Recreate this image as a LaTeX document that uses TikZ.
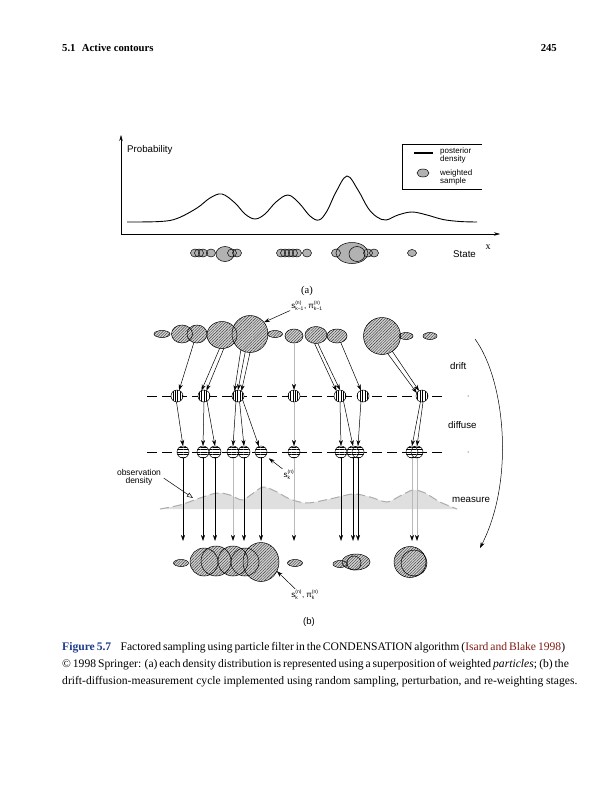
\documentclass[tikz,border=0pt]{standalone}
\usepackage{fontspec}
\setmainfont{Liberation Serif}
\newfontfamily\figfont{Liberation Sans}
\usetikzlibrary{arrows.meta,patterns.meta,shapes.geometric,calc}
\definecolor{capblue}{RGB}{30,60,140}
\definecolor{capred}{RGB}{130,30,20}
\newcommand{\partl}[3]{$\mbox{#1}^{\mbox{\tiny #2}}_{\mbox{\tiny #3}}$}
\begin{document}
\begin{tikzpicture}[x=1pt,y=-1pt,
  hatchfill/.style={fill=gray!35, postaction={pattern={Lines[angle=45,distance=2pt,line width=0.4pt]}, pattern color=black!80}},
  partnode/.style={ellipse, draw, line width=0.5pt, inner sep=0pt, outer sep=0pt},
  vstripe/.style={fill=white, postaction={pattern={Lines[angle=90,distance=2.4pt,line width=0.45pt]}}},
  hstripe/.style={fill=white, postaction={pattern={Lines[angle=0,distance=2.4pt,line width=0.45pt]}}},
  circnode/.style={circle, draw, line width=0.5pt, minimum size=12pt, inner sep=0pt, outer sep=0pt},
  arr/.style={-{Stealth[length=6pt,width=4pt]}, line width=0.5pt},
  garr/.style={-{Stealth[length=6pt,width=4pt,color=black]}, line width=0.6pt, draw=gray!55},
  axarr/.style={-{Stealth[length=6pt,width=3.5pt]}, line width=0.5pt},
  dashln/.style={line width=0.6pt, dash pattern=on 10pt off 5pt},
  figtxt/.style={font=\figfont\fontsize{9.7}{11}\selectfont, inner sep=0pt},
  legtxt/.style={font=\figfont\fontsize{8}{9}\selectfont, inner sep=0pt, anchor=base west},
  captxt/.style={font=\fontsize{11.6}{13}\selectfont, inner sep=0pt, anchor=base west},
  sampfill/.style={fill=gray!60},
  labtxt/.style={font=\figfont\fontsize{8}{9}\selectfont, inner sep=1pt}
]
\useasboundingbox (0,0) rectangle (614,800);
\fill[white] (0,0) rectangle (614,800);

% header
\node[anchor=base west, inner sep=0pt, font=\fontsize{10.7}{12}\selectfont\bfseries] (hdl) at (62,52) {5.1\hspace{0.6em}Active contours};
\node[anchor=base east, inner sep=0pt, font=\fontsize{10.7}{12}\selectfont\bfseries] (hdr) at (557,52) {245};

% ---------------- (a)
\draw[axarr] (121,235) -- (121,135);
\draw[axarr] (121,234) -- (500,234);
\node[figtxt, anchor=base west] (prob) at (127,152.5) {Probability};
\node[figtxt, anchor=base west] (state) at (453,257) {State};
\node[inner sep=0pt, anchor=base, font=\fontsize{10}{11}\selectfont] (xl) at (488,249) {x};

\draw[line width=0.9pt] plot[smooth, tension=0.6] coordinates {(127,222) (160,221.5) (177,218.5) (197,208) (210,198) (222,194) (235,203) (245,214) (255,219) (265,214) (276,202) (288,195) (299,203) (310,216) (319,220) (327,211) (336,192) (347,176) (358,190) (368,208) (377,217) (386,220) (398,215) (412,212) (427,215) (443,219.5) (460,221.5) (477,222)};

% legend
\draw[line width=0.5pt] (482,144) -- (402,144) -- (402,189) -- (482,189);
\draw[line width=2pt] (414,153) -- (433,153);
\fill[sampfill] (423,173) ellipse (6 and 4);
\draw[line width=0.5pt] (423,173) ellipse (6 and 4);
\node[legtxt] (lg1) at (440,153) {posterior};
\node[legtxt] (lg2) at (440,161) {density};
\node[legtxt] (lg3) at (440,175) {weighted};
\node[legtxt] (lg4) at (440,183) {sample};

\def\samplesA{195/253/4.5/4, 199/253/4.5/4, 203/253/4.5/4, 211/253/4.5/4, 225/254/9/7.5, 232/253/4.5/4, 237/253/4.5/4, 281/253/4.5/4, 285/253/4.5/4, 289/253/4.5/4, 293/253/4.5/4, 297/253/4.5/4, 307/253/4.5/4, 336/253/4.5/4, 352/253/16/10.5, 357/254/8/7.5, 368/253/4.5/4, 374/253/4.5/4, 412/253/4.5/3.5}
\foreach \px/\py/\ra/\rb in \samplesA {\fill[sampfill] (\px,\py) ellipse ({\ra} and {\rb});}
\foreach \px/\py/\ra/\rb in \samplesA {\draw[line width=0.5pt] (\px,\py) ellipse ({\ra} and {\rb});}

\node[inner sep=0pt, anchor=base, font=\fontsize{10.5}{12}\selectfont] (capa) at (307,293) {(a)};

% ---------------- (b)
\draw[dashln] (147,396) -- (442,396);
\draw[dashln] (147,452) -- (442,452);
\fill (468,396) circle (0.5);
\fill (468,452) circle (0.5);

% measure
\fill[gray!25] plot[smooth] coordinates {(160,509) (180,505) (200,498) (217,493) (230,495) (242,500) (252,494) (263,487) (275,491) (290,499) (307,503) (330,499) (353,494) (370,497) (387,502) (400,496) (413,490) (425,493) (440,502) (457,509)} -- cycle;
\draw[gray!65, line width=1pt, dash pattern=on 9pt off 4pt] plot[smooth] coordinates {(160,509) (180,505) (200,498) (217,493) (230,495) (242,500) (252,494) (263,487) (275,491) (290,499) (307,503) (330,499) (353,494) (370,497) (387,502) (400,496) (413,490) (425,493) (440,502) (457,509)};

% top particles
\def\toprow{t1/162/334/8/3.5, t2/182/334/10.5/9, t3/197/334/10/9, t4/222/335/15/13.5, t5/250/334/18/18.5, t6/275/334/7.5/3.5, t7/294/336/9/7, t8/316/335/11/8.5, t9/337/336/10/7, t10/382/336/18.5/18.5, t11/406/336/7/3.5, t12/430/336/7/3.5}
\foreach \n/\px/\py/\ra/\rb in \toprow {\path[hatchfill] (\px,\py) ellipse ({\ra} and {\rb});}
\foreach \n/\px/\py/\ra/\rb in \toprow {\node[partnode, minimum width={2*\ra*1pt}, minimum height={2*\rb*1pt}] (\n) at (\px,\py) {};}

% drift and diffuse particles
\def\driftrow{D1/177, D2/204, D3/238, D4/294, D5/340, D6/363, D7/422}
\def\difrow{F1/183, F2/203, F3/215, F4/233, F5/244, F6/261, F7/294, F8/341, F9/353, F10/358, F11/412, F12/417}
\foreach \n/\px in \driftrow {\path[vstripe] (\px,396) circle (6);}
\foreach \n/\px in \driftrow {\node[circnode] (\n) at (\px,396) {};}
\foreach \n/\px in \difrow {\path[hstripe] (\px,452) circle (6);}
\foreach \n/\px in \difrow {\node[circnode] (\n) at (\px,452) {};}

% top -> drift
\draw[arr] (t3.-110) -- (D1.70);
\draw[arr] (t4.-100) -- (D2.115);
\draw[arr] (t4.-82) -- (D2.65);
\draw[arr] (t5.-120) -- (D3.125);
\draw[arr] (t5.-105) -- (D3.90);
\draw[arr] (t5.-90) -- (D3.55);
\draw[garr] (t7.south) -- (D4.north);
\draw[arr] (t8.-100) -- (D5.125);
\draw[arr] (t8.-78) -- (D5.90);
\draw[arr] (t9.-60) -- (D6.110);
\draw[arr] (t10.-72) -- (D7.150);
\draw[arr] (t10.-56) -- (D7.120);

% drift -> diffuse
\draw[arr] (D1.-95) -- (F1.north);
\draw[arr] (D2.south) -- (F2.north);
\draw[arr] (D2.-60) -- (F3.north);
\draw[arr] (D3.-110) -- (F4.north);
\draw[arr] (D3.-75) -- (F5.north);
\draw[arr] (D3.-40) -- (F6.110);
\draw[garr] (D4.south) -- (F7.north);
\draw[arr] (D5.south) -- (F8.north);
\draw[arr] (D5.-55) -- (F9.north);
\draw[arr] (D6.-110) -- (F10.north);
\draw[arr] (D7.-105) -- (F11.north);
\draw[arr] (D7.-80) -- (F12.north);

% diffuse -> measured
\foreach \n/\px in \difrow {\coordinate (e\n) at (\px,541);}
\foreach \n in {F1,F2,F3,F5,F6,F8,F9,F10} {\draw[arr] (\n.south) -- (e\n);}
\foreach \n in {F4,F7,F11,F12} {\draw[garr] (\n.south) -- (e\n);}

% bottom particles
\def\botrow{p1/181/563/7.5/3.5, p2/204/562/14/14, p3/216/561/15/15, p4/233/561/15/15, p5/245/562/14/14, p6/261/562/18/19.5, p7/295/563/7.5/3.5, p8/340/564/7/3.5, p9/356/562/14/8, p10/354/563/7/7, p11/410/562/16/15.5, p12/414/563/13/13}
\foreach \n/\px/\py/\ra/\rb in \botrow {\path[hatchfill] (\px,\py) ellipse ({\ra} and {\rb});}
\foreach \n/\px/\py/\ra/\rb in \botrow {\node[partnode, minimum width={2*\ra*1pt}, minimum height={2*\rb*1pt}] (\n) at (\px,\py) {};}

% labels
\node[labtxt] (lab1) at (307,306) {\partl{s}{(n)}{k−1}, \partl{π}{(n)}{k−1}};
\draw[arr] (lab1.195) -- (t5.40);
\node[labtxt] (lab2) at (289,475) {\partl{s}{(n)}{k}};
\draw[arr, shorten >=4pt] (lab2.north west) -- (F6.-40);
\node[labtxt] (lab3) at (305,595) {\partl{s}{(n)}{k}, \partl{π}{(n)}{k}};
\draw[arr] ([xshift=5pt]lab3.north west) -- (p6.-30);

\node[font=\figfont\fontsize{8.5}{8}\selectfont, align=center, inner sep=1pt] (obs) at (139,477) {observation\\density};
\coordinate (obsp) at (193,498);
\draw[-{Triangle[open,length=6pt,width=4.5pt]}, line width=0.5pt, shorten <=2pt] (obs.east) -- (obsp);

\node[figtxt, anchor=base west] (drift) at (450,369) {drift};
\node[figtxt, anchor=base west] (diffuse) at (448,428) {diffuse};
\node[figtxt, anchor=base west] (measure) at (452,502) {measure};
\coordinate (cyc1) at (475,339);
\coordinate (cyc2) at (480,548);
\draw[arr] (cyc1) .. controls (505,380) and (515,480) .. (cyc2);

\node[inner sep=0pt, anchor=base, font=\figfont\fontsize{9.5}{11}\selectfont] (capb) at (309,624) {(b)};

% caption
\node[captxt] (c1) at (62,650) {\makebox[495pt][s]{\textcolor{capblue}{\textbf{Figure 5.7}}\hspace{0.8em}Factored sampling using particle filter in the CONDENSATION algorithm (\textcolor{capred}{Isard and Blake 1998})}};
\node[captxt] (c2) at (62,667) {\makebox[495pt][s]{\textcopyright\ 1998 Springer: (a) each density distribution is represented using a superposition of weighted \textit{particles}; (b) the}};
\node[captxt] (c3) at (62,684) {drift-diffusion-measurement cycle implemented using random sampling, perturbation, and re-weighting stages.};
\end{tikzpicture}
\end{document}
